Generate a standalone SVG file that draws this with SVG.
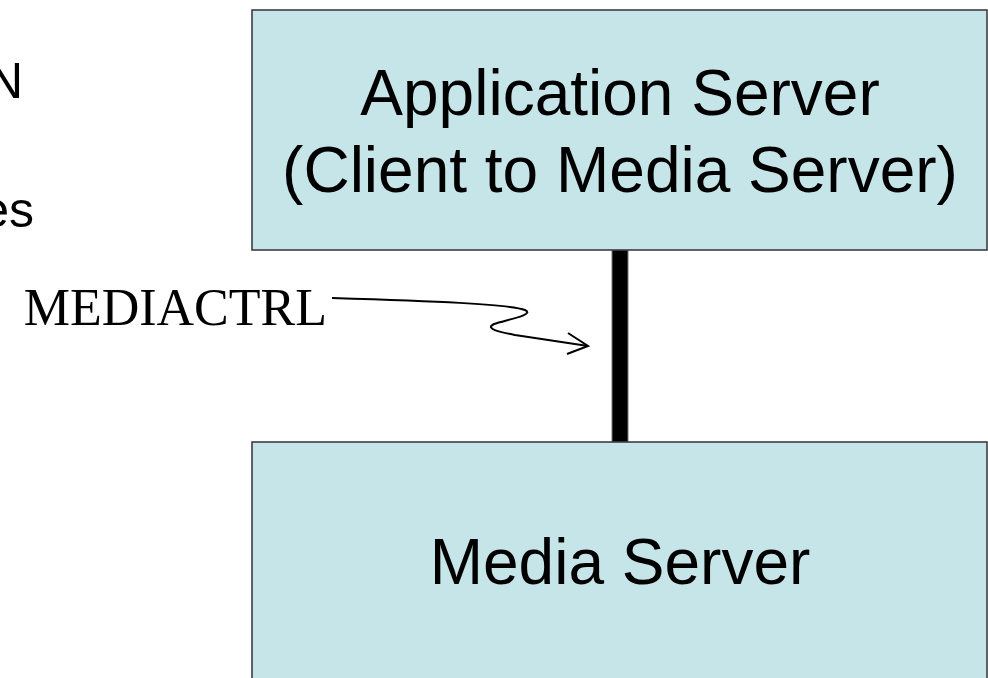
<svg xmlns="http://www.w3.org/2000/svg" width="988" height="678" viewBox="0 0 988 678">
<style>
.box{fill:#C6E5E9;stroke:#333;stroke-width:1.5}
.lbl{font-family:"Liberation Sans",Arial,sans-serif;font-size:64px;fill:#000;text-anchor:middle}
.side{font-family:"Liberation Sans",Arial,sans-serif;font-size:50px;fill:#000;text-anchor:end}
.tm{font-family:"Liberation Serif","Times New Roman",serif;font-size:52px;fill:#000;text-anchor:end}
</style>
<rect width="988" height="678" fill="#fff"/>
<g id="side-text">
<text class="side" x="23" y="98">N</text>
<text class="side" x="34" y="227">es</text>
</g>
<g id="connectors">
<rect x="612" y="250" width="16" height="192" fill="#000" stroke="#777" stroke-width="1"/>
<path d="M332,298 C430,301 510,304 525,310 C536,315 505,320 494,324 C484,329 500,332 515,335 L588,346" fill="none" stroke="#000" stroke-width="2"/>
<path d="M568,333 L588,346 L567,354" fill="none" stroke="#000" stroke-width="2"/>
</g>
<g id="app-server">
<rect class="box" x="252" y="10" width="735" height="240"/>
<text class="lbl" x="620" y="115">Application Server</text>
<text class="lbl" x="620" y="192">(Client to Media Server)</text>
</g>
<g id="media-server">
<rect class="box" x="252" y="442" width="735" height="260"/>
<text class="lbl" x="620" y="584">Media Server</text>
</g>
<g id="label">
<text class="tm" x="327" y="325">MEDIACTRL</text>
</g>
</svg>
